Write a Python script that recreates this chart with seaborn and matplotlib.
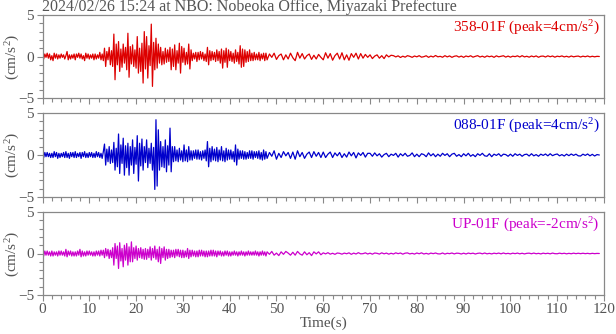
import numpy as np
import pandas as pd
import matplotlib
matplotlib.use("Agg")
import matplotlib.pyplot as plt
import seaborn as sns
from matplotlib.ticker import MultipleLocator

title = "2024/02/26 15:24 at NBO: Nobeoka Office, Miyazaki Prefecture"
components = ["358-01F", "088-01F", "UP-01F"]
peaks = [4, 4, -2]
colors = ["#dd0000", "#0000cc", "#cc00cc"]
x_ticks = [0, 10, 20, 30, 40, 50, 60, 70, 80, 90, 100, 110, 120]
y_ticks = [-5, 0, 5]

# acceleration (cm/s^2): 0-48 s every 0.25 s, then 48-119 s every 0.5 s
dt_main, dt_tail, t_split = 0.25, 0.5, 48.0

ns_main = [
    0.2, -0.3, 0.3, -0.1, 0.4, -0.2, 0.3, -0.4, 0.1, -0.5, 0.4, -0.2, 0.3, -0.3, 0.2, -0.2,
    0.3, -0.1, 0.2, -0.3, 0.1, 0.6, -0.4, 0.2, -0.3, 0.2, -0.2, 0.3, -0.4, 0.3, -0.1, 0.4,
    -0.2, 0.3, -0.3, 0.1, -0.5, 0.4, -0.2, 0.3, -0.3, 0.2, -0.2, 0.3, -0.4, 0.3, -0.3, 0.2,
    -0.2, 0.5, -0.4, 0.3, -0.5, 1.0, -1.2, 0.6, -0.4, 1.1, -1.0, 0.7, -1.2, 2.7, -2.8, 1.5,
    -1.0, 1.8, -1.8, 0.9, -1.3, 1.5, -0.8, 1.1, -1.6, 2.8, -2.5, 1.2, -0.9, 1.4, -1.2, 0.8,
    -1.4, 2.4, -2.0, 1.0, -1.8, 1.6, -3.2, 3.0, -1.5, 2.4, -2.6, 1.3, -1.1, 3.9, -3.6, 1.7,
    -1.6, 2.2, -1.4, 1.5, -0.8, 1.1, -1.0, 0.6, -0.9, 1.0, -0.7, 0.8, -0.6, 1.1, -1.6, 0.9,
    -1.2, 1.4, -1.6, 0.7, -0.8, 1.6, -2.0, 1.2, -0.7, 1.0, -1.0, 0.5, -0.9, 1.5, -1.5, 0.8,
    -0.5, 0.4, -0.3, 0.5, -0.6, 0.5, -0.4, 0.6, -0.3, 0.5, -0.5, 0.3, -0.6, 1.1, -1.0, 0.7,
    -0.5, 0.6, -0.4, 0.5, -0.6, 0.8, -0.5, 0.6, -0.8, 0.9, -1.4, 0.7, -0.7, 1.0, -1.3, 0.8,
    -0.5, 0.6, -0.6, 0.4, -0.8, 0.8, -0.6, 0.5, -0.9, 1.3, -1.3, 0.9, -1.2, 0.8, -0.7, 0.6,
    -0.6, 0.8, -0.5, 0.4, -0.5, 0.5, -0.4, 0.3, -0.4, 0.5, -0.5, 0.3, -0.3, 0.4, -0.5, 0.4,
]
ns_tail = [
    -0.4, 0.3, -0.1, 0.4, -0.35, 0.1, 0.3, -0.4, 0.2, -0.3, 0.4, -0.15, -0.5, 0.5,
    -0.2, 0.35, -0.3, 0.1, 0.3, -0.35, 0.15, -0.3, 0.25, -0.1,
    -0.4, 0.45, -0.2, 0.35, -0.45, 0.1, 0.4, -0.3, 0.45, -0.4, 0.2, -0.45, 0.35, -0.1, 0.4, -0.3, 0.35, -0.2,
    0.25, -0.1, 0.2, -0.25, 0.05, 0.2, -0.2, 0.1, -0.25, 0.2, -0.05, 0.15,
    0.1, -0.05, 0.08, -0.12, 0.04, -0.08, 0.1, 0.02, -0.1, 0.06,
    -0.04, 0.1, -0.08, -0.02, 0.09, -0.1, 0.05, -0.06, 0.12, -0.04,
    0.02, -0.09, 0.1, -0.05, 0.07, -0.1, 0.03, 0.08, -0.07, 0.05,
    -0.1, 0.06, -0.03, 0.09, -0.08, 0.02, 0.1, -0.06, 0.04, -0.09,
    0.07, -0.03, 0.05, -0.1, 0.08, -0.04, 0.02, 0.09, -0.07, 0.05,
    -0.08, 0.04, -0.02, 0.08, -0.06, 0.1, -0.05, 0.03, -0.08, 0.06,
    -0.04, 0.07, -0.09, 0.03, 0.05, -0.06, 0.08, -0.03, 0.06, -0.08,
    0.04, -0.02, 0.07, -0.05, 0.03, -0.07, 0.06, -0.04, 0.02, 0.05,
    -0.06, 0.04, -0.03, 0.06, -0.05, 0.03, -0.04, 0.02, 0.0,
]

ew_main = [
    0.2, -0.3, 0.3, -0.2, 0.3, -0.2, 0.2, -0.3, 0.2, -0.3, 0.4, -0.2, 0.3, -0.4, 0.2, -0.3,
    0.2, -0.2, 0.3, -0.3, 0.4, -0.3, 0.2, -0.4, 0.3, -0.2, 0.3, -0.3, 0.4, -0.3, 0.2, -0.2,
    0.3, -0.4, 0.3, -0.2, 0.4, -0.3, 0.2, -0.3, 0.3, -0.2, 0.3, -0.3, 0.2, -0.3, 0.4, -0.2,
    0.3, -0.3, 0.2, -0.4, 0.4, 1.3, -1.2, 0.7, -0.8, 1.0, -1.0, 0.6, -0.9, 1.5, -1.8, 0.8,
    -1.4, 2.5, -2.2, 1.2, -1.0, 2.0, -2.4, 1.1, -1.5, 1.4, -2.4, 1.0, -1.2, 1.8, -2.2, 0.9,
    -1.1, 2.3, -3.1, 1.4, -1.3, 1.9, -1.8, 1.0, -0.9, 1.8, -1.5, 0.8, -1.0, 1.4, -1.8, 0.9,
    -4.1, 4.2, -3.7, 3.0, -1.8, 1.6, -1.4, 1.0, -1.5, 1.8, -2.0, 1.1, -1.2, 3.2, -2.0, 1.0,
    -0.8, 1.0, -0.7, 0.6, -0.8, 0.8, -0.6, 0.5, -0.8, 1.2, -0.7, 0.6, -0.8, 1.0, -0.6, 0.5,
    -0.6, 0.5, -0.4, 0.6, -0.5, 0.6, -0.5, 0.4, -0.6, 0.5, -0.4, 0.6, -0.7, 1.6, -1.4, 0.8,
    -0.8, 1.0, -0.6, 0.7, -0.7, 0.9, -0.8, 0.6, -0.6, 1.0, -0.7, 0.5, -0.8, 0.8, -0.6, 0.6,
    -0.5, 0.6, -0.5, 0.4, -0.8, 1.2, -1.2, 0.7, -0.5, 0.5, -0.4, 0.5, -0.5, 0.4, -0.5, 0.3,
    -0.4, 0.5, -0.4, 0.5, -0.5, 0.4, -0.3, 0.4, -0.4, 0.5, -0.5, 0.3, -0.6, 0.6, -0.5, 0.4,
]
ew_tail = [
    -0.4, 0.3, -0.15, 0.5, -0.5, 0.2, -0.3, 0.4, -0.1, 0.3, -0.4, 0.35,
    -0.5, 0.5, -0.2, 0.3, -0.4, 0.1, 0.35, -0.3, 0.4, -0.15, 0.3, -0.3,
    0.35, -0.3, 0.1, 0.35, -0.3, 0.25, -0.1, 0.3, -0.3, 0.15,
    -0.25, 0.35, -0.1, 0.3, -0.35, 0.25, -0.05, 0.3, -0.25, 0.2,
    0.2, -0.15, 0.25, -0.1, 0.15, -0.25, 0.05, 0.2, -0.2, 0.1,
    -0.05, 0.2, -0.25, 0.15, -0.1, 0.2, -0.15, -0.05, 0.25, -0.2,
    0.1, -0.2, 0.15, 0.05, -0.2, 0.25, -0.1, 0.15, -0.2, 0.1,
    -0.15, 0.2, -0.05, 0.15, -0.2, 0.1, 0.2, -0.15, 0.05, -0.2,
    0.15, -0.1, 0.2, -0.15, 0.05, -0.2, 0.15, -0.05, 0.2, -0.1,
    -0.15, 0.15, -0.2, 0.1, -0.05, 0.15, -0.15, 0.1, 0.05, -0.15,
    0.1, -0.15, 0.15, -0.05, 0.1, -0.15, 0.05, 0.1, -0.12, 0.15,
    -0.1, 0.05, -0.15, 0.1, -0.05, 0.12, -0.1, 0.15, -0.08, 0.05,
    0.12, -0.1, 0.05, -0.12, 0.1, -0.08, 0.12, -0.05, 0.1, -0.1,
    -0.12, 0.1, -0.05, 0.12, -0.1, 0.08, -0.12, 0.05, 0.0,
]

ud_main = [
    0.2, -0.3, 0.3, -0.2, 0.3, -0.2, 0.2, -0.3, 0.3, -0.3, 0.2, -0.2, 0.2, -0.3, 0.3, -0.2,
    0.3, -0.2, 0.2, -0.3, 0.5, -0.4, 0.3, -0.2, 0.3, -0.3, 0.2, -0.3, 0.2, -0.3, 0.3, -0.2,
    0.5, -0.4, 0.3, -0.3, 0.2, -0.3, 0.3, -0.2, 0.3, -0.2, 0.2, -0.3, 0.2, -0.3, 0.3, -0.2,
    0.3, -0.3, 0.4, -0.2, 0.4, -0.5, 0.6, -0.3, 0.5, -0.6, 0.4, -0.5, 0.7, -1.4, 1.2, -0.6,
    0.9, -1.8, 1.3, -0.9, 0.6, -1.6, 1.0, -0.8, 1.2, -1.4, 0.8, -1.0, 1.4, -1.0, 0.7, -0.6,
    0.9, -0.8, 0.6, -0.5, 0.7, -0.6, 0.5, -0.7, 0.6, -0.7, 0.5, -0.5, 0.8, -0.8, 0.6, -0.5,
    0.9, -0.7, 0.5, -1.0, 0.8, -1.2, 0.6, -0.5, 0.8, -0.8, 0.5, -0.6, 0.5, -0.5, 0.4, -0.4,
    0.4, -0.5, 0.5, -0.3, 0.5, -0.4, 0.4, -0.5, 0.4, -0.5, 0.3, -0.4, 0.6, -0.6, 0.4, -0.4,
    0.4, -0.3, 0.3, -0.4, 0.3, -0.4, 0.4, -0.3, 0.4, -0.3, 0.3, -0.4, 0.3, -0.4, 0.3, -0.3,
    0.4, -0.3, 0.4, -0.3, 0.3, -0.4, 0.3, -0.2, 0.3, -0.3, 0.2, -0.3, 0.3, -0.2, 0.3, -0.3,
    0.2, -0.3, 0.2, -0.2, 0.3, -0.2, 0.2, -0.3, 0.2, -0.2, 0.3, -0.2, 0.2, -0.3, 0.2, -0.2,
    0.3, -0.2, 0.2, -0.2, 0.2, -0.2, 0.3, -0.2, 0.2, -0.3, 0.2, -0.2, 0.3, -0.2, 0.2, -0.3,
]
ud_tail = [
    0.2, -0.1, 0.25, -0.2, 0.05, -0.25, 0.2, -0.1, 0.25, 0.05, -0.2, 0.15,
    -0.2, 0.25, -0.05, -0.2, 0.2, -0.15, 0.1, -0.25, 0.2, -0.05, 0.2, -0.15,
    0.08, -0.05, 0.1, -0.08, 0.03, -0.1, 0.06, 0.02, -0.08, 0.05,
    -0.03, 0.08, -0.1, 0.05, -0.06, 0.1, -0.04, -0.02, 0.08, -0.06,
    0.04, -0.08, 0.06, 0.02, -0.07, 0.08, -0.04, 0.05, -0.08, 0.03,
    -0.06, 0.08, -0.02, 0.06, -0.08, 0.04, 0.07, -0.05, 0.02, -0.07,
    0.06, -0.03, 0.08, -0.06, 0.02, -0.07, 0.05, -0.02, 0.06, -0.04,
    -0.05, 0.06, -0.07, 0.03, -0.02, 0.06, -0.05, 0.04, 0.02, -0.06,
    0.04, -0.06, 0.05, -0.02, 0.04, -0.06, 0.02, 0.05, -0.04, 0.06,
    -0.04, 0.02, -0.05, 0.04, -0.02, 0.05, -0.04, 0.06, -0.03, 0.02,
    -0.05, 0.04, -0.02, 0.05, -0.04, 0.03, -0.05, 0.02, 0.04, -0.03,
    0.05, -0.03, 0.02, -0.05, 0.04, -0.02, 0.03, -0.04, 0.05, -0.02,
    -0.03, 0.04, -0.02, 0.03, -0.04, 0.02, -0.03, 0.04, -0.02, 0.03,
    -0.02, 0.03, -0.02, 0.02, -0.03, 0.02, -0.02, 0.01, 0.0,
]

traces = [(ns_main, ns_tail), (ew_main, ew_tail), (ud_main, ud_tail)]

sns.set_style("ticks")
plt.rcParams["font.family"] = ["Liberation Serif", "DejaVu Serif"]
plt.rcParams["mathtext.fontset"] = "custom"
plt.rcParams["mathtext.rm"] = "Liberation Serif"
plt.rcParams["mathtext.default"] = "regular"

TXT = "#555555"
SPINE = "#888888"
FS = 11

fig = plt.figure(figsize=(6.16, 3.34), dpi=100)
W, H = 616.0, 334.0
left_px, right_px = 42.5, 604.0
panels_px = [(15, 98), (113, 197), (212, 295)]

for i, ((main, tail), comp, peak, col) in enumerate(zip(traces, components, peaks, colors)):
    top, bot = panels_px[i]
    ax = fig.add_axes([left_px / W, 1 - bot / H, (right_px - left_px) / W, (bot - top) / H])
    t = np.concatenate([np.arange(len(main)) * dt_main,
                        t_split + np.arange(len(tail)) * dt_tail])
    v = np.concatenate([main, tail])
    df = pd.DataFrame({"Time": t, "acc": v})
    sns.lineplot(data=df, x="Time", y="acc", ax=ax, color=col, linewidth=0.9,
                 sort=False, estimator=None)
    ax.set_xlim(0, 120)
    ax.set_ylim(-5, 5)
    ax.set_xticks(x_ticks)
    ax.xaxis.set_minor_locator(MultipleLocator(2))
    ax.set_yticks(y_ticks)
    ax.yaxis.set_minor_locator(MultipleLocator(1))
    ax.tick_params(axis="both", which="major", direction="out", length=4, width=0.8,
                   color=SPINE, labelcolor=TXT, labelsize=FS, pad=2)
    ax.tick_params(axis="both", which="minor", direction="out", length=3, width=0.8,
                   color=SPINE)
    for s in ax.spines.values():
        s.set_color(SPINE)
        s.set_linewidth(0.9)
    ax.set_ylabel("(cm/s$^2$)", color=TXT, fontsize=FS)
    ax.yaxis.set_label_coords(-0.036, 0.5)
    if i < 2:
        ax.set_xticklabels([])
        ax.set_xlabel("")
    else:
        ax.set_xlabel("Time(s)", color=TXT, fontsize=FS, labelpad=0)
    ax.text(0.992, 0.96, f"{comp} (peak={peak}cm/s$^2$)", transform=ax.transAxes,
            ha="right", va="top", color=col, fontsize=FS)

fig.text(left_px / W, 1 - 11 / H, title, ha="left", va="baseline", color=TXT, fontsize=11.5)

fig.savefig("out.png", dpi=100)
